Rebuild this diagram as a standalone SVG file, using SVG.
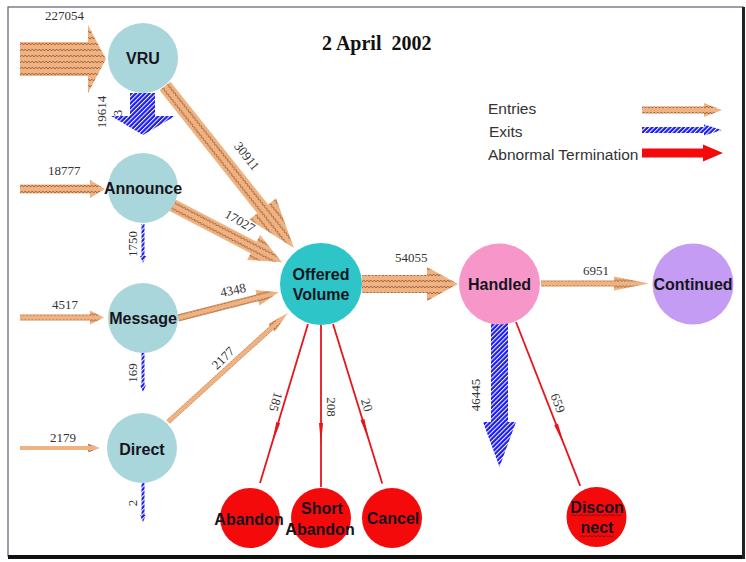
<svg xmlns="http://www.w3.org/2000/svg" width="746" height="562" viewBox="0 0 746 562">
<style>
.num{font-family:"Liberation Serif","Times New Roman",serif;font-size:13px;fill:#333}
.rnum{font-family:"Liberation Serif","Times New Roman",serif;font-size:13px;fill:#333;text-anchor:middle;dominant-baseline:central}
.lbl{font-family:"Liberation Sans",Arial,sans-serif;font-weight:bold;font-size:16px;fill:#151520;text-anchor:middle}
.leg{font-family:"Liberation Sans",Arial,sans-serif;font-size:15.5px;fill:#333}
.entry{fill:url(#zig)}
.exit{fill:url(#hatch)}
.abn{stroke:#e8141b;stroke-width:1.8;fill:none}
.abnh{fill:#e8141b}
.light{fill:#a9d6da}
.redn{fill:#f40a0a}
.wave{fill:none;stroke:#7a1010;stroke-width:0.8}
</style>
<defs>
<pattern id="zig" patternUnits="userSpaceOnUse" width="7" height="6">
<rect width="7" height="6" fill="#f0b280"/>
<path d="M0,4 L1.75,2 L3.5,4 L5.25,2 L7,4" fill="none" stroke="#8a5535" stroke-width="0.8"/>
</pattern>
<pattern id="hatch" patternUnits="userSpaceOnUse" width="3.2" height="3.2" patternTransform="rotate(45)">
<rect width="3.2" height="3.2" fill="#1c1cf0"/>
<rect width="1" height="3.2" fill="#fff"/>
</pattern>
</defs>
<rect x="0" y="0" width="746" height="562" fill="#fff"/>
<rect x="8" y="7" width="735" height="549" fill="#fff" stroke="#5a5f70" stroke-width="1.2"/>
<rect x="8" y="555" width="737" height="4" fill="#111"/>
<rect x="742" y="7" width="3" height="552" fill="#222"/>

<g id="connectors">
<!-- entries -->
<polygon class="entry" transform="translate(20,59)" points="0,-17 68,-17 68,-34 86,0 68,34 68,17 0,17"/>
<polygon class="entry" transform="translate(20,189)" points="0,-4.5 70,-4.5 70,-9 85,0 70,9 70,4.5 0,4.5"/>
<polygon class="entry" transform="translate(20,317.5)" points="0,-3 70,-3 70,-7 84,0 70,7 70,3 0,3"/>
<polygon class="entry" transform="translate(20,448)" points="0,-2 68,-2 68,-4.5 80,0 68,4.5 68,2 0,2"/>
<polygon class="entry" transform="translate(165,86) rotate(51.5)" points="0,-7 157,-7 157,-17 207,0 157,17 157,7 0,7"/>
<polygon class="entry" transform="translate(172,205) rotate(27.5)" points="0,-6.5 92,-6.5 92,-14 124,0 92,14 92,6.5 0,6.5"/>
<polygon class="entry" transform="translate(178,318) rotate(-14.3)" points="0,-3.5 82,-3.5 82,-8 104,0 82,8 82,3.5 0,3.5"/>
<polygon class="entry" transform="translate(168,422) rotate(-42.3)" points="0,-2.5 140,-2.5 140,-5 162,0 140,5 140,2.5 0,2.5"/>
<polygon class="entry" transform="translate(362,284)" points="0,-9 65,-9 65,-17 96,0 65,17 65,9 0,9"/>
<polygon class="entry" transform="translate(541,283.5)" points="0,-3 73,-3 73,-7 108,0 73,7 73,3 0,3"/>
<!-- exits -->
<polygon class="exit" points="130,93 155,93 155,116 175,116 143,135 111,116 130,116"/>
<polygon class="exit" points="141.5,224 144.5,224 144.5,256 146,256 143,263 140,256 141.5,256"/>
<polygon class="exit" points="141.5,353 144.5,353 144.5,385 146,385 143,392 140,385 141.5,385"/>
<polygon class="exit" points="141.5,483 144.5,483 144.5,515 146,515 143,522 140,515 141.5,515"/>
<polygon class="exit" points="491,323 508,323 508,422 516,422 499.5,467 483,422 491,422"/>
<!-- abnormal -->
<g transform="translate(308,324) rotate(106.8)"><line class="abn" x1="0" y1="0" x2="166" y2="0"/><polygon class="abnh" points="103,-2 125,0 103,2"/></g>
<g transform="translate(321,325) rotate(90)"><line class="abn" x1="0" y1="0" x2="162" y2="0"/><polygon class="abnh" points="98,-2 120,0 98,2"/></g>
<g transform="translate(333,324) rotate(72.85)"><line class="abn" x1="0" y1="0" x2="167" y2="0"/><polygon class="abnh" points="100,-2 122,0 100,2"/></g>
<g transform="translate(516,322) rotate(68.6)"><line class="abn" x1="0" y1="0" x2="176" y2="0"/><polygon class="abnh" points="110,-2 132,0 110,2"/></g>
<!-- labels -->
<text class="num" x="45" y="20">227054</text>
<text class="num" x="48" y="175">18777</text>
<text class="num" x="52" y="309">4517</text>
<text class="num" x="50" y="442">2179</text>
<text class="num" x="395" y="262">54055</text>
<text class="num" x="583" y="275">6951</text>
<text class="rnum" transform="translate(101,112) rotate(-90)">19614</text>
<text class="rnum" transform="translate(117,113) rotate(-90)">3</text>
<text class="rnum" transform="translate(132,244) rotate(-90)">1750</text>
<text class="rnum" transform="translate(132,373) rotate(-90)">169</text>
<text class="rnum" transform="translate(132,503) rotate(-90)">2</text>
<text class="rnum" transform="translate(475,395) rotate(-90)">46445</text>
<text class="rnum" transform="translate(247,156) rotate(52)">30911</text>
<text class="rnum" transform="translate(240,221) rotate(30)">17027</text>
<text class="rnum" transform="translate(233,290) rotate(-12)">4348</text>
<text class="rnum" transform="translate(223,358) rotate(-45)">2177</text>
<text class="rnum" transform="translate(276,402) rotate(107)">185</text>
<text class="rnum" transform="translate(331,407) rotate(90)">208</text>
<text class="rnum" transform="translate(367,405) rotate(73)">20</text>
<text class="rnum" transform="translate(558,403) rotate(69)">659</text>
</g>

<g id="node-vru"><circle class="light" cx="143" cy="58" r="35"/><text class="lbl" x="143" y="64">VRU</text></g>
<g id="node-announce"><circle class="light" cx="143" cy="188" r="35"/><text class="lbl" x="143" y="194">Announce</text></g>
<g id="node-message"><circle class="light" cx="143" cy="318" r="35"/><text class="lbl" x="143" y="324">Message</text></g>
<g id="node-direct"><circle class="light" cx="142" cy="448" r="35"/><text class="lbl" x="142" y="455">Direct</text></g>
<g id="node-offered"><circle cx="321" cy="284" r="41" fill="#2ec5c8"/><text class="lbl" x="321" y="280">Offered</text><text class="lbl" x="321" y="300">Volume</text></g>
<g id="node-handled"><circle cx="499.5" cy="284" r="40.5" fill="#f797c9"/><text class="lbl" x="499.5" y="290">Handled</text></g>
<g id="node-continued"><circle cx="693" cy="284" r="40.5" fill="#c59cf3"/><text class="lbl" x="693" y="290">Continued</text></g>
<g id="node-abandon"><circle class="redn" cx="250" cy="518" r="30"/><text class="lbl" x="249" y="525">Abandon</text></g>
<g id="node-short-abandon"><circle class="redn" cx="321" cy="518" r="30"/><text class="lbl" x="322" y="514">Short</text><text class="lbl" x="320" y="535">Abandon</text></g>
<g id="node-cancel"><circle class="redn" cx="392" cy="518" r="30"/><text class="lbl" x="393" y="524">Cancel</text></g>
<g id="node-disconnect"><circle class="redn" cx="596.5" cy="517" r="30"/><text class="lbl" x="597" y="513">Discon</text><text class="lbl" x="597" y="533">nect</text>
<path class="wave" d="M571,516 l2,-1.5 l2,1.5 l2,-1.5 l2,1.5 l2,-1.5 l2,1.5 l2,-1.5 l2,1.5 l2,-1.5 l2,1.5 l2,-1.5 l2,1.5 l2,-1.5 l2,1.5 l2,-1.5 l2,1.5 l2,-1.5 l2,1.5 l2,-1.5 l2,1.5 l2,-1.5 l2,1.5 l2,-1.5 l2,1.5 l2,-1.5"/>
<path class="wave" d="M580,537 l2,-1.5 l2,1.5 l2,-1.5 l2,1.5 l2,-1.5 l2,1.5 l2,-1.5 l2,1.5 l2,-1.5 l2,1.5 l2,-1.5 l2,1.5 l2,-1.5 l2,1.5 l2,-1.5 l2,1.5 l2,-1.5"/></g>

<g id="legend">
<text class="leg" x="488" y="114">Entries</text>
<text class="leg" x="489" y="137">Exits</text>
<text class="leg" x="488" y="160">Abnormal Termination</text>
<polygon class="entry" transform="translate(642,110)" points="0,-3.5 62,-3.5 62,-7 80,0 62,7 62,3.5 0,3.5"/>
<polygon class="exit" transform="translate(642,130)" points="0,-3 62,-3 62,-5.5 80,0 62,5.5 62,3 0,3"/>
<polygon fill="#f40a0a" transform="translate(642,153)" points="0,-4.5 61,-4.5 61,-8.5 81,0 61,8.5 61,4.5 0,4.5"/>
</g>

<text x="322" y="50" font-family="Liberation Serif, Times New Roman, serif" font-weight="bold" font-size="20" fill="#111" style="white-space:pre">2 April  2002</text>
</svg>
